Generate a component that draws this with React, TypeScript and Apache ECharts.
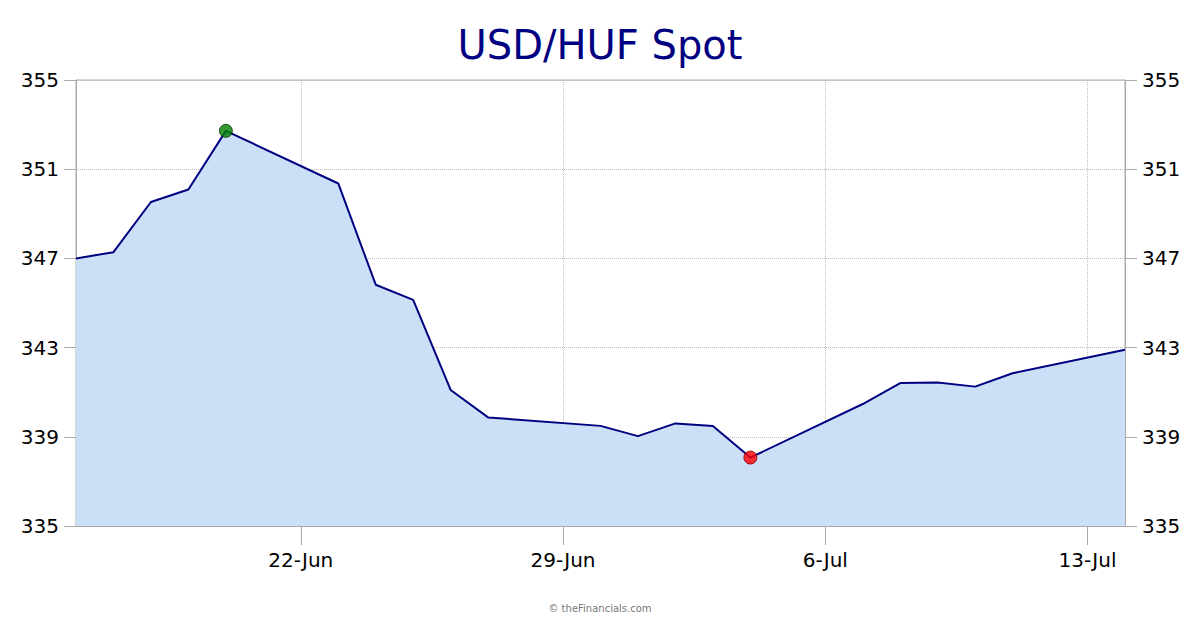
import React, { useEffect, useRef } from "react";
import * as echarts from "echarts";

const categories: string[] = [
  "16-Jun", "17-Jun", "18-Jun", "19-Jun", "20-Jun", "21-Jun", "22-Jun",
  "23-Jun", "24-Jun", "25-Jun", "26-Jun", "27-Jun", "28-Jun", "29-Jun",
  "30-Jun", "1-Jul", "2-Jul", "3-Jul", "4-Jul", "5-Jul", "6-Jul",
  "7-Jul", "8-Jul", "9-Jul", "10-Jul", "11-Jul", "12-Jul", "13-Jul", "14-Jul",
];

const spotValues: (number | null)[] = [
  347.0, 347.28, 349.53, 350.09, 352.72, null, null,
  350.36, 345.82, 345.14, 341.1, 339.87, null, null,
  339.49, 339.03, 339.6, 339.48, 338.07, null, null,
  340.47, 341.41, 341.44, 341.25, 341.85, null, null, 342.9,
];

const tickLabels: string[] = ["22-Jun", "29-Jun", "6-Jul", "13-Jul"];

const FONT = "DejaVu Sans, Verdana, sans-serif";

export default function App() {
  const ref = useRef<HTMLDivElement>(null);

  useEffect(() => {
    if (!ref.current) return;
    const chart = echarts.init(ref.current, undefined, { renderer: "svg" });

    let maxIdx = -1;
    let minIdx = -1;
    spotValues.forEach((v, i) => {
      if (v == null) return;
      if (maxIdx < 0 || v > (spotValues[maxIdx] as number)) maxIdx = i;
      if (minIdx < 0 || v < (spotValues[minIdx] as number)) minIdx = i;
    });

    const showTick = (_i: number, v: string) => tickLabels.includes(v);

    const yCommon = {
      type: "value" as const,
      min: 335,
      max: 355,
      interval: 4,
      axisLine: { show: true, lineStyle: { color: "#aaaaaa", width: 1 } },
      axisTick: { show: true, length: 12, lineStyle: { color: "#aaaaaa" } },
      axisLabel: { color: "#000", fontSize: 20, fontFamily: FONT, margin: 17 },
    };

    chart.setOption({
      animation: false,
      backgroundColor: "#ffffff",
      textStyle: { fontFamily: FONT },
      title: [
        {
          text: "USD/HUF Spot",
          left: "center",
          top: 20,
          textStyle: { fontSize: 40, fontWeight: "normal", color: "#000080", fontFamily: FONT },
        },
        {
          text: "© theFinancials.com",
          left: "center",
          top: 598,
          textStyle: { fontSize: 10, fontWeight: "normal", color: "#777777", fontFamily: FONT },
        },
      ],
      grid: {
        left: 76,
        right: 75,
        top: 80,
        bottom: 104,
        show: true,
        borderColor: "#aaaaaa",
        borderWidth: 1,
        backgroundColor: "transparent",
      },
      xAxis: {
        type: "category",
        data: categories,
        boundaryGap: false,
        axisLine: { show: true, lineStyle: { color: "#aaaaaa" } },
        axisTick: { show: true, length: 19, interval: showTick, lineStyle: { color: "#aaaaaa" } },
        axisLabel: { interval: showTick, color: "#000", fontSize: 20, fontFamily: FONT, margin: 24 },
        splitLine: {
          show: true,
          interval: showTick,
          lineStyle: { color: "#bbbbbb", type: "dotted", width: 1 },
        },
      },
      yAxis: [
        {
          ...yCommon,
          position: "left",
          splitLine: { show: true, lineStyle: { color: "#bbbbbb", type: "dotted", width: 1 } },
        },
        {
          ...yCommon,
          position: "right",
          splitLine: { show: false },
        },
      ],
      series: [
        {
          type: "line",
          data: spotValues,
          connectNulls: true,
          showSymbol: false,
          symbol: "none",
          lineStyle: { color: "#000080", width: 2 },
          areaStyle: { color: "#cbe0f7", opacity: 1 },
          z: 2,
        },
        {
          type: "scatter",
          data: [[maxIdx, spotValues[maxIdx]]],
          symbol: "circle",
          symbolSize: 13,
          itemStyle: { color: "#008000", borderColor: "#003300", borderWidth: 1 },
          z: 5,
        },
        {
          type: "scatter",
          data: [[minIdx, spotValues[minIdx]]],
          symbol: "circle",
          symbolSize: 13,
          itemStyle: { color: "#ff0000", borderColor: "#800000", borderWidth: 1 },
          z: 5,
        },
      ],
    });

    return () => chart.dispose();
  }, []);

  return (
    <div
      ref={ref}
      style={{ position: "fixed", left: 0, top: 0, width: 1200, height: 630, background: "#fff" }}
    />
  );
}
